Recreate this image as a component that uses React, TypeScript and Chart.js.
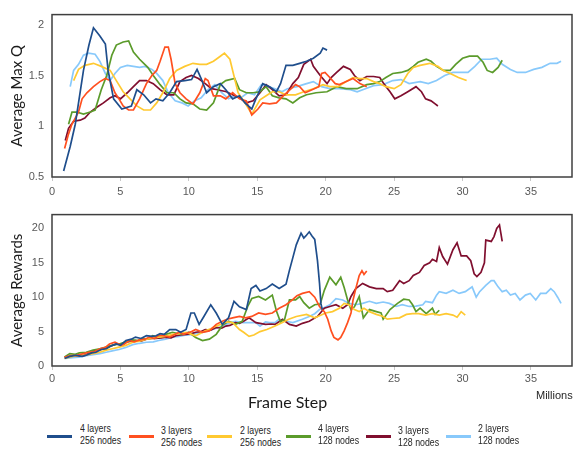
import React, { useEffect, useRef } from 'react';
import { Chart, registerables } from 'chart.js';
Chart.register(...registerables);

// ---------- DATA ----------
const seriesNames = ['4 layers|256 nodes', '3 layers|256 nodes', '2 layers|256 nodes', '4 layers|128 nodes', '3 layers|128 nodes', '2 layers|128 nodes'];
const seriesColors = ['#1f4e8c', '#ff5020', '#ffc931', '#5b9b2b', '#800f2f', '#88c9fb'];

const xTicks = [0, 5, 10, 15, 20, 25, 30, 35];
const qTicks = [0.5, 1, 1.5, 2];
const rTicks = [0, 5, 10, 15, 20];

// Average Max Q (top)
const q4L256x = [0.85,1.33,1.7,2.3,2.7,3.03,3.5,3.9,4.1,4.5,5.1,5.8,6.2,6.7,7.2,7.6,8.1,8.6,9.1,9.7,10.2,10.6,10.9,11.3,11.8,12.3,12.7,13.2,13.7,14.1,14.6,14.9,15.4,15.9,16.4,16.7,17.1,17.6,18.1,18.6,19.1,19.6,19.8,20.1];
const q4L256y = [0.56,0.8,1.02,1.55,1.8,1.97,1.89,1.81,1.55,1.27,1.17,1.2,1.36,1.31,1.23,1.27,1.25,1.33,1.44,1.45,1.46,1.56,1.47,1.33,1.39,1.42,1.36,1.27,1.3,1.23,1.17,1.27,1.42,1.39,1.34,1.42,1.6,1.6,1.62,1.64,1.67,1.72,1.77,1.75];

const q3L256x = [0.92,1.2,1.45,1.94,2.2,2.55,3.03,3.5,3.9,4.25,4.6,4.85,5.2,5.6,5.95,6.4,6.9,7.3,7.65,7.9,8.25,8.5,8.7,9.0,9.35,9.8,10.3,10.8,11.2,11.4,11.8,12.3,12.7,13.2,13.7,14.2,14.6,15.05,15.4,15.9,16.4,16.9,17.4,17.8,18.1,18.5,19.0,19.5,19.7,19.95,20.3,20.7,21.0,21.5,22.0,22.5,23.0];
const q3L256y = [0.78,0.92,1.02,1.14,1.27,1.33,1.39,1.44,1.47,1.45,1.33,1.28,1.2,1.16,1.16,1.27,1.42,1.5,1.55,1.64,1.78,1.78,1.66,1.42,1.33,1.27,1.22,1.33,1.47,1.45,1.3,1.3,1.27,1.33,1.27,1.25,1.11,1.17,1.23,1.22,1.23,1.3,1.36,1.41,1.39,1.33,1.36,1.39,1.52,1.53,1.48,1.42,1.41,1.44,1.47,1.42,1.39];

const q2L256x = [1.58,1.94,2.4,3.03,3.6,4.25,4.7,5.2,5.7,6.2,6.7,7.2,7.65,8.1,8.6,9.1,9.7,10.3,10.8,11.3,11.8,12.3,12.6,13.0,13.2,13.6,14.1,14.6,15.2,15.65,16.1,16.6,17.1,17.8,18.4,19.1,19.8,20.3,20.9,21.5,22.0,22.5,23.0,23.5,23.95,24.4,25.0,25.5,26.0,26.4,26.9,27.6,28.2,28.6,29.1,29.7,30.3];
const q2L256y = [1.45,1.56,1.6,1.62,1.59,1.55,1.45,1.34,1.27,1.2,1.16,1.16,1.23,1.33,1.47,1.55,1.59,1.62,1.61,1.61,1.64,1.69,1.72,1.66,1.55,1.33,1.23,1.12,1.26,1.3,1.34,1.34,1.31,1.31,1.34,1.37,1.41,1.39,1.39,1.44,1.48,1.47,1.47,1.44,1.42,1.39,1.37,1.41,1.52,1.58,1.6,1.62,1.59,1.55,1.52,1.48,1.45];

const q4L128x = [1.21,1.46,1.8,2.3,2.8,3.15,3.6,4.0,4.37,4.7,5.2,5.6,5.95,6.4,7.0,7.4,7.9,8.4,8.9,9.35,9.8,10.3,10.8,11.3,11.8,12.3,12.7,13.35,13.7,14.2,14.7,15.2,15.65,16.1,16.6,17.1,17.6,18.1,18.6,19.3,20.1,20.8,21.5,22.3,23.0,23.5,23.95,24.4,24.9,25.5,26.0,26.4,26.75,27.35,27.7,28.1,28.6,29.1,29.5,30.0,30.5,31.1,31.5,31.8,32.2,32.6,32.9];
const q4L128y = [1.02,1.14,1.14,1.12,1.14,1.16,1.36,1.5,1.7,1.8,1.83,1.84,1.73,1.66,1.58,1.5,1.41,1.33,1.33,1.27,1.23,1.22,1.17,1.16,1.23,1.41,1.45,1.47,1.36,1.33,1.33,1.34,1.39,1.3,1.28,1.27,1.23,1.28,1.31,1.33,1.34,1.39,1.37,1.37,1.41,1.42,1.44,1.48,1.52,1.53,1.55,1.59,1.63,1.66,1.64,1.59,1.55,1.55,1.61,1.67,1.69,1.69,1.63,1.55,1.53,1.58,1.65];

const q3L128x = [0.97,1.21,1.58,2.06,2.4,2.8,3.3,3.76,4.25,4.6,5.0,5.5,5.95,6.4,6.9,7.4,7.9,8.4,8.9,9.35,9.8,10.2,10.7,11.2,11.65,12.1,12.75,13.2,13.7,14.2,14.7,15.2,15.65,16.1,16.6,17.1,17.6,18.0,18.4,18.9,19.1,19.6,20.1,20.4,20.8,21.3,21.8,22.1,22.5,23.0,23.5,23.95,24.3,24.7,25.05,25.5,26.0,26.6,27.0,27.3,27.7,28.0,28.2];
const q3L128y = [0.86,0.98,1.05,1.06,1.08,1.14,1.19,1.23,1.28,1.3,1.27,1.33,1.39,1.45,1.45,1.42,1.36,1.31,1.31,1.44,1.48,1.5,1.47,1.42,1.37,1.36,1.34,1.31,1.28,1.23,1.25,1.33,1.41,1.36,1.3,1.31,1.42,1.48,1.61,1.66,1.59,1.5,1.42,1.48,1.53,1.59,1.56,1.5,1.45,1.49,1.49,1.48,1.41,1.34,1.27,1.3,1.34,1.39,1.34,1.27,1.25,1.22,1.2];

const q2L128x = [1.33,1.58,1.94,2.3,2.67,3.15,3.5,3.9,4.25,4.6,5.0,5.5,5.95,6.4,6.8,7.3,7.65,8.1,8.5,9.0,9.5,9.95,10.4,10.9,11.4,11.9,12.4,12.9,13.35,13.8,14.3,14.8,15.3,15.8,16.3,16.8,17.2,17.9,18.6,19.1,19.7,20.3,21.0,21.8,22.3,22.9,23.5,24.2,24.9,25.5,26.1,26.9,27.5,28.1,28.7,29.3,29.9,30.4,30.9,31.4,32.0,32.5,32.9,33.5,34.0,34.6,35.2,35.8,36.4,36.9,37.2];
const q2L128y = [1.39,1.55,1.61,1.7,1.72,1.71,1.64,1.52,1.45,1.52,1.58,1.6,1.59,1.58,1.59,1.56,1.52,1.45,1.33,1.25,1.23,1.2,1.25,1.28,1.36,1.41,1.33,1.27,1.3,1.28,1.33,1.31,1.41,1.39,1.37,1.34,1.37,1.39,1.42,1.44,1.39,1.37,1.37,1.36,1.34,1.37,1.4,1.41,1.45,1.46,1.42,1.44,1.42,1.45,1.5,1.53,1.53,1.53,1.59,1.66,1.66,1.67,1.61,1.56,1.53,1.53,1.56,1.58,1.62,1.62,1.64];

// Average Rewards (bottom)
const r4L256x = [0.92,1.3,1.77,2.2,2.5,2.9,3.2,3.6,3.96,4.3,4.7,5.0,5.4,5.8,6.1,6.5,6.9,7.3,7.6,7.9,8.2,8.6,9.05,9.4,9.8,10.15,10.4,10.75,11.1,11.6,12.0,12.45,12.9,13.3,13.7,14.2,14.55,14.9,15.2,15.65,16.1,16.6,17.1,17.35,17.6,17.85,18.2,18.4,18.55,18.8,19.0,19.2,19.4,19.55,19.65,19.75];
const r4L256y = [1.1,1.4,1.56,1.4,1.56,1.9,2.0,2.4,2.5,2.9,3.2,3.0,3.7,3.9,4.2,4.0,4.4,4.3,4.4,4.7,4.6,5.3,5.3,4.9,5.3,7.7,7.7,6.05,7.2,8.9,7.7,6.05,7.0,9.4,8.6,8.2,11.25,11.7,10.9,11.25,11.9,11.25,11.9,13.9,15.75,17.6,19.3,18.6,18.9,19.5,18.9,18.4,15.3,12.0,9.1,8.2];

const r3L256x = [0.92,1.4,1.8,2.3,2.7,3.1,3.5,3.9,4.2,4.6,5.05,5.3,5.65,6.0,6.4,6.8,7.1,7.5,7.8,8.2,8.6,9.0,9.3,9.6,9.9,10.2,10.5,11.0,11.5,12.0,12.45,12.8,13.2,13.7,14.15,14.6,15.1,15.6,16.1,16.6,17.1,17.5,17.9,18.3,18.8,19.2,19.55,19.9,20.15,20.4,20.6,20.9,21.1,21.35,21.6,21.85,22.0,22.2,22.45,22.65,22.8,23.0];
const r3L256y = [1.3,1.5,1.56,1.8,2.0,2.1,2.5,2.7,3.2,3.45,3.0,3.2,3.7,3.5,3.8,3.9,4.2,4.0,4.5,4.4,4.2,4.6,4.9,4.6,4.8,5.0,5.3,4.9,5.1,6.05,6.5,6.8,7.0,7.2,7.0,7.2,7.7,7.5,7.7,8.4,8.9,9.5,10.2,10.55,10.8,10.0,8.65,7.9,6.8,5.1,4.15,3.8,4.15,5.1,6.3,7.7,9.6,11.25,13.15,13.85,13.3,13.8];

const r2L256x = [0.92,1.5,2.0,2.5,3.0,3.5,3.96,4.4,4.9,5.4,5.9,6.4,6.9,7.3,7.8,8.3,8.8,9.3,9.8,10.2,10.5,10.9,11.2,11.6,12.0,12.4,12.7,13.2,13.7,14.0,14.4,14.75,15.2,15.7,16.3,16.8,17.3,17.85,18.6,19.2,19.55,20.0,20.5,21.0,21.35,21.7,22.1,22.45,22.8,23.2,23.7,24.2,24.5,24.9,25.4,25.9,26.35,26.8,27.3,27.8,28.3,28.8,29.3,29.6,29.9,30.2];
const r2L256y = [1.1,1.4,1.56,1.6,1.8,2.0,2.3,2.5,2.75,3.0,3.45,3.6,3.9,4.0,4.2,4.3,4.6,4.7,4.9,4.6,4.4,4.8,5.1,5.4,5.8,6.1,6.4,6.3,5.3,4.9,4.3,4.5,5.0,5.3,5.8,6.3,6.8,7.2,7.5,7.0,7.3,7.7,7.9,8.4,9.1,8.9,8.2,7.9,8.4,7.9,7.5,7.2,6.8,6.9,7.0,7.5,7.6,7.6,7.4,7.6,7.4,7.6,7.4,7.1,7.9,7.4];

const r4L128x = [0.92,1.3,1.7,2.0,2.5,3.0,3.5,3.96,4.4,4.9,5.4,5.9,6.3,6.6,7.0,7.35,7.7,8.1,8.5,8.8,9.2,9.5,10.0,10.5,11.0,11.5,12.0,12.45,12.9,13.4,13.9,14.3,14.6,15.1,15.6,16.1,16.4,16.7,17.0,17.35,17.8,18.1,18.4,18.8,19.2,19.6,19.9,20.3,20.75,21.1,21.35,21.6,21.85,22.1,22.45,22.75,23.2,23.7,24.05,24.2,24.7,25.25,25.7,26.1,26.35,26.6,26.9,27.35,27.8,28.0,28.3];
const r4L128y = [1.3,1.8,1.7,1.9,2.0,2.3,2.5,2.75,3.0,3.2,3.5,3.8,3.7,4.0,3.9,4.4,4.2,4.5,4.7,4.9,4.7,4.6,4.9,4.15,3.7,3.9,4.6,5.9,6.5,6.05,6.5,8.65,9.8,10.1,9.6,10.3,8.0,6.4,6.8,9.6,9.6,10.1,9.2,8.4,8.9,9.0,11.0,12.9,11.8,12.9,11.4,9.6,8.2,8.6,10.1,7.0,8.2,7.9,7.7,6.8,8.2,9.1,9.7,9.6,8.9,7.9,8.4,7.6,8.4,7.5,8.1];

const r3L128x = [0.92,1.4,1.8,2.2,2.5,2.9,3.2,3.6,3.96,4.3,4.7,5.0,5.4,5.8,6.1,6.5,6.9,7.3,7.6,8.0,8.3,8.7,9.05,9.4,9.8,10.2,10.5,10.9,11.2,11.6,12.0,12.4,12.7,13.0,13.4,13.7,14.0,14.4,14.9,15.2,15.6,16.0,16.3,16.85,17.35,17.85,18.3,18.8,19.4,19.9,20.3,20.75,21.25,21.6,21.85,22.2,22.7,23.2,23.7,24.2,24.5,24.9,25.4,25.7,26.1,26.4,26.85,27.2,27.6,27.8,28.1,28.3,28.55,28.9,29.3,29.6,29.9,30.3,30.6,30.85,31.05,31.35,31.6,31.7,32.1,32.3,32.5,32.7,32.8,32.9];
const r3L128y = [1.3,1.4,1.5,1.45,1.65,2.0,2.3,2.4,2.6,2.9,3.2,3.1,3.45,3.6,3.7,3.6,3.9,4.0,4.0,4.1,4.2,4.1,4.4,4.5,4.6,4.7,4.9,5.0,5.3,5.2,5.6,5.5,5.8,5.9,6.3,6.2,6.5,7.0,6.3,6.2,6.05,6.1,6.05,6.8,6.05,5.8,6.2,6.5,7.2,8.4,8.65,8.9,8.4,8.9,10.1,11.25,12.0,11.5,11.25,11.25,10.8,11.0,12.4,12.0,12.4,13.15,13.6,14.6,15.0,15.5,15.2,17.2,15.9,14.8,16.9,17.9,16.0,16.0,15.3,13.4,13.0,13.6,15.0,18.3,18.1,18.8,20.0,20.5,19.3,18.1];

const r2L128x = [1.0,1.5,2.0,2.5,3.0,3.5,3.96,4.4,4.9,5.4,5.9,6.4,6.9,7.4,7.8,8.3,8.8,9.3,9.8,10.3,10.75,11.2,11.7,12.2,12.7,13.0,13.4,13.95,14.4,14.9,15.2,15.6,15.9,16.3,16.6,17.1,17.6,18.3,18.8,19.2,19.55,19.9,20.3,20.75,21.25,21.7,22.2,22.7,23.2,23.7,24.2,24.65,25.15,25.6,26.1,26.6,27.1,27.3,27.8,28.1,28.3,28.8,29.3,29.75,30.2,30.7,31.0,31.25,31.7,32.1,32.3,32.6,32.9,33.2,33.5,33.85,34.2,34.6,34.95,35.35,35.7,36.1,36.45,36.7,36.95,37.2];
const r2L128y = [1.1,1.2,1.3,1.5,1.65,1.8,2.0,2.2,2.4,2.7,3.1,3.3,3.45,3.5,3.7,3.9,4.2,4.3,4.5,4.6,4.8,5.0,5.3,5.6,6.05,6.3,6.5,6.3,6.3,6.3,5.8,6.4,6.3,6.3,6.8,6.5,6.3,6.8,7.2,7.6,8.2,8.5,8.9,9.8,9.6,9.1,8.9,9.1,9.4,9.1,9.3,9.1,8.65,8.9,8.65,8.7,8.9,9.4,9.2,10.3,10.8,10.55,11.0,10.55,10.8,11.5,10.0,10.8,11.7,12.4,12.4,11.5,10.8,11.0,10.3,10.55,9.6,10.3,10.55,9.6,10.55,10.55,11.25,10.8,10.0,9.1];

const qSeries = [[q4L256x, q4L256y], [q3L256x, q3L256y], [q2L256x, q2L256y], [q4L128x, q4L128y], [q3L128x, q3L128y], [q2L128x, q2L128y]];
const rSeries = [[r4L256x, r4L256y], [r3L256x, r3L256y], [r2L256x, r2L256y], [r4L128x, r4L128y], [r3L128x, r3L128y], [r2L128x, r2L128y]];

// ---------- CHART HELPERS ----------
const framePlugin = {
  id: 'frame',
  afterDatasetsDraw(chart: any) {
    const { ctx, chartArea } = chart;
    const { left, top, right, bottom } = chartArea;
    ctx.save();
    ctx.strokeStyle = '#3f3f3f';
    ctx.lineWidth = 1.5;
    ctx.strokeRect(left, top, right - left, bottom - top);
    ctx.restore();
  },
};

const tickFont = { family: '"Liberation Sans", Arial, sans-serif', size: 11 };
const titleFont = { family: 'Lato, "Open Sans", sans-serif', size: 15 };

function buildConfig(series: number[][][], yMin: number, yMax: number, yTickVals: number[], yTitle: string, padTop: number, xAxisH: number, xTickPad: number) {
  return {
    type: 'line' as const,
    data: {
      datasets: series.map(([xs, ys], i) => ({
        label: seriesNames[i],
        data: xs.map((x, j) => ({ x, y: ys[j] })),
        borderColor: seriesColors[i],
        backgroundColor: seriesColors[i],
        borderWidth: 1.7,
        pointRadius: 0,
        tension: 0,
        fill: false,
      })),
    },
    options: {
      responsive: false,
      animation: false,
      layout: { padding: { top: padTop, right: 8, left: 0, bottom: 0 } },
      plugins: { legend: { display: false }, tooltip: { enabled: false } },
      scales: {
        x: {
          type: 'linear',
          min: 0,
          max: 38,
          border: { display: false },
          grid: { display: true, drawOnChartArea: false, drawTicks: true, tickLength: 4, color: '#c8c8c8' },
          afterBuildTicks: (s: any) => { s.ticks = xTicks.map((v) => ({ value: v })); },
          afterFit: (s: any) => { s.height = xAxisH; },
          ticks: { font: tickFont, color: '#595959', padding: xTickPad, maxRotation: 0, autoSkip: false, callback: (v: any) => String(v) },
        },
        y: {
          type: 'linear',
          min: yMin,
          max: yMax,
          border: { display: false },
          grid: { display: false, drawTicks: false },
          afterBuildTicks: (s: any) => { s.ticks = yTickVals.map((v) => ({ value: v })); },
          afterFit: (s: any) => { s.width = 52; },
          ticks: { font: tickFont, color: '#595959', padding: 8, callback: (v: any) => String(v) },
          title: { display: true, text: yTitle, font: titleFont, color: '#1a1a1a', padding: { top: 8, bottom: 0 } },
        },
      },
    },
    plugins: [framePlugin],
  };
}

function ChartCanvas({ config, top, height }: { config: any; top: number; height: number }) {
  const ref = useRef<HTMLCanvasElement | null>(null);
  useEffect(() => {
    if (!ref.current) return;
    const chart = new Chart(ref.current, config);
    return () => chart.destroy();
  }, []);
  return <canvas ref={ref} width={580} height={height} style={{ position: 'absolute', left: 0, top, width: 580, height }} />;
}

const legendSwatchX = [47, 129, 207, 286, 366, 446];
const legendTextX = [80, 161, 240, 318, 398, 478];
const legendDrop = [0, 2, 2, 0, 2, 0];

export default function App() {
  const topCfg = buildConfig(qSeries, 0.5, 2.1, qTicks, 'Average Max Q', 7, 23, 4);
  const botCfg = buildConfig(rSeries, 0, 22, rTicks, 'Average Rewards', 11, 34, 2);
  const legendFont = '"Liberation Sans", Arial, sans-serif';
  return (
    <div style={{ position: 'absolute', left: 0, top: 0, width: 580, height: 450, background: '#fff', overflow: 'hidden' }}>
      <ChartCanvas config={topCfg} top={0} height={200} />
      <ChartCanvas config={botCfg} top={200} height={200} />
      <div style={{ position: 'absolute', left: 248, top: 393, fontFamily: 'Lato, "Open Sans", sans-serif', fontSize: 16, color: '#1a1a1a', lineHeight: '18px', whiteSpace: 'nowrap' }}>Frame Step</div>
      <div style={{ position: 'absolute', left: 536, top: 389, fontFamily: '"Liberation Sans", Arial, sans-serif', fontSize: 11, color: '#262626', lineHeight: '13px' }}>Millions</div>
      {seriesNames.map((name, i) => {
        const [l1, l2] = name.split('|');
        return (
          <React.Fragment key={i}>
            <div style={{ position: 'absolute', left: legendSwatchX[i], top: 435, width: 25, height: 3, background: seriesColors[i] }} />
            <div style={{ position: 'absolute', left: legendTextX[i], top: 422 + legendDrop[i], fontFamily: legendFont, fontSize: 11, lineHeight: '12px', color: '#262626', whiteSpace: 'nowrap', transform: 'scaleX(0.8)', transformOrigin: 'left top' }}>
              <div>{l1}</div>
              <div>{l2}</div>
            </div>
          </React.Fragment>
        );
      })}
    </div>
  );
}
